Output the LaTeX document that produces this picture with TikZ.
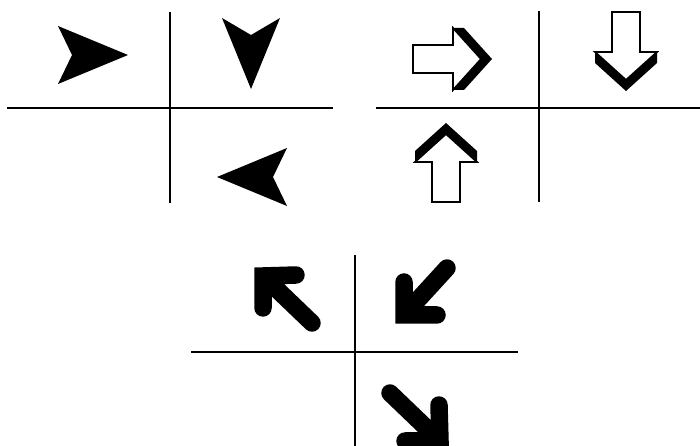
\documentclass[tikz,border=0pt]{standalone}
\usepackage{tikz}
\usetikzlibrary{calc}

\tikzset{
  axisline/.style={line width=1.1pt,black},
  stealthhead/.style={fill=black},
  thickarrow/.style={line width=0.35cm,line cap=round,line join=miter,black},
  blockarrow/.pic={
    % shadow swept along the pointing direction
    \fill[black] (40,31) -- (51,31) -- (79,0) -- (51,-31) -- (40,-31) -- (68,0) -- cycle;
    \draw[fill=white,line width=1pt] (0,-14) -- (40,-14) -- (40,-31) -- (68,0)
      -- (40,31) -- (40,14) -- (0,14) -- cycle;
  }
}

\begin{document}
\begin{tikzpicture}[x=0.02cm,y=0.02cm]
    \clip (0,0) rectangle (700,446);

    \coordinate (first) at (170,338);
    \coordinate (second) at (539,338);
    \coordinate (third) at (355,94);

    % Quadrants with stealth heads
    \begin{scope}[shift={(first)}]
        \draw[axisline] (-163,0) -- (163,0);
        \draw[axisline] (0,96) -- (0,-95);
        \fill[stealthhead] (-42,53) -- (-112,82) -- (-98,53) -- (-112,24) -- cycle;
        \fill[stealthhead] (81,19) -- (52,90) -- (81,73) -- (110,90) -- cycle;
        \fill[stealthhead] (47,-69) -- (117,-40) -- (103,-69) -- (117,-98) -- cycle;
    \end{scope}

    % Quadrants with block arrows
    \begin{scope}[shift={(second)}]
        \draw[axisline] (-163,0) -- (163,0);
        \draw[axisline] (0,97) -- (0,-94);
        \pic at (-126,49) {blockarrow};
        \pic[rotate=-90] at (87,96) {blockarrow};
        \pic[rotate=90] at (-93,-94) {blockarrow};
    \end{scope}

    % Quadrants with thick round arrows
    \begin{scope}[shift={(third)}]
        \draw[axisline] (-164,0) -- (163,0);
        \draw[axisline] (0,97) -- (0,-94);
        \draw[thickarrow] (-43,29) -- (-92,76) (-59,77) -- (-92,76) -- (-92,44);
        \draw[thickarrow] (92,84) -- (49,37) (49,70) -- (49,37) -- (82,37);
        \draw[thickarrow] (35,-41) -- (85,-89) (84,-53) -- (85,-89) -- (50,-89);
    \end{scope}
\end{tikzpicture}
\end{document}
